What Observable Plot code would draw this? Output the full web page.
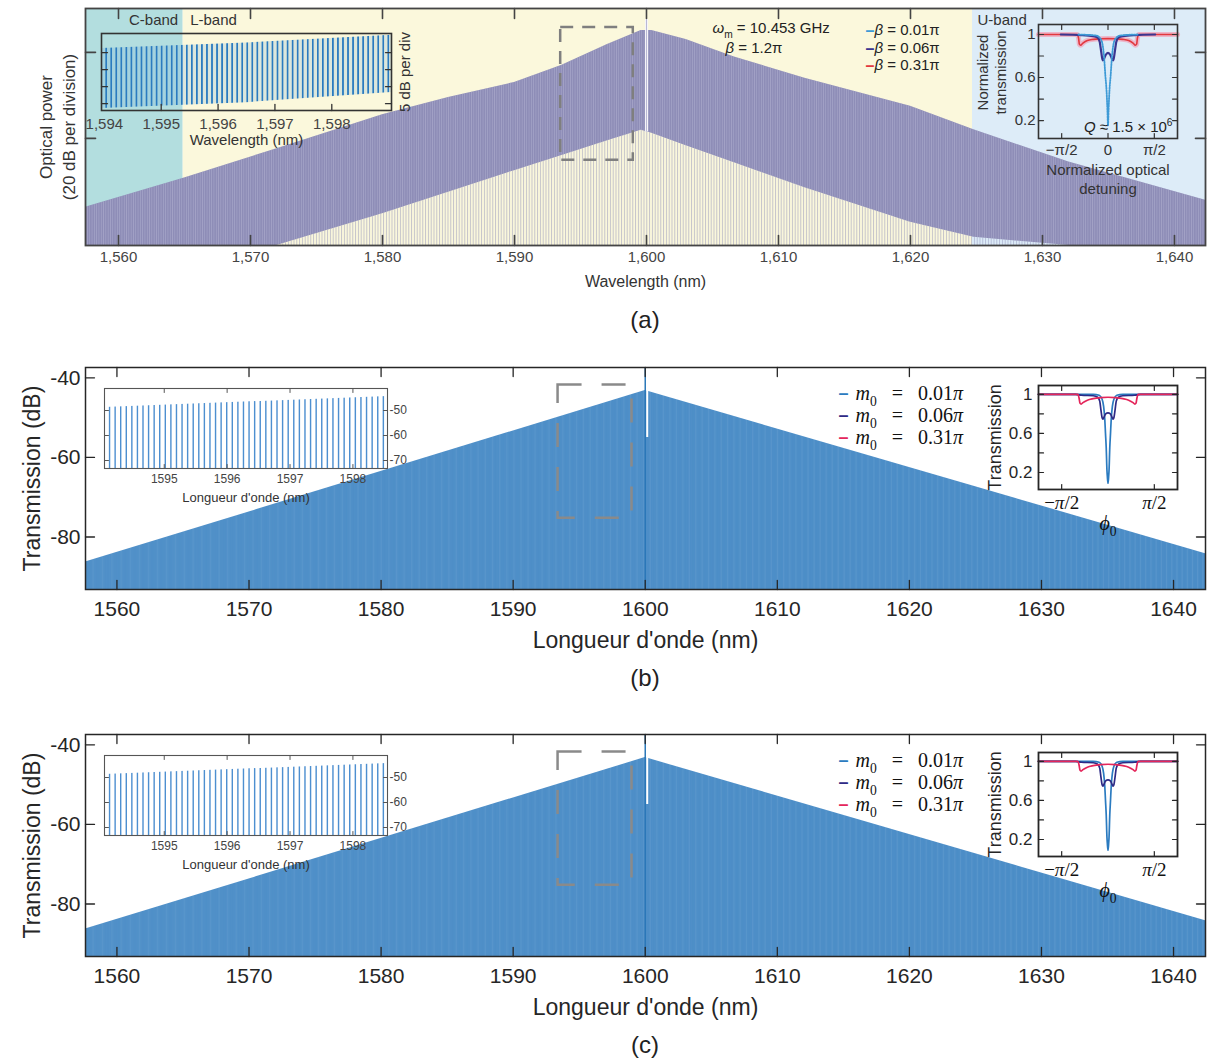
<!DOCTYPE html>
<html>
<head>
<meta charset="utf-8">
<script src="https://cdn.jsdelivr.net/npm/d3@7"></script>
<script src="https://cdn.jsdelivr.net/npm/@observablehq/plot@0.6"></script>
<style>
  html, body { margin: 0; padding: 0; background: #fff; }
  #fig { position: relative; width: 1208px; height: 1061px; overflow: hidden; background: #fff; }
  #fig svg { position: absolute; }
  .cap { position: absolute; transform: translate(-50%, -50%); font: 24px "Liberation Sans", Arial, sans-serif; color: #222; }
</style>
</head>
<body>
<div id="fig"></div>
<script>
// ======================= DATA =======================
// ---- (a) measured comb spectrum (relative dB, 20 dB per division) ----
const bandNames = ["C-band", "L-band", "U-band"];
const bandEdges = [1557.5, 1564.9, 1624.7, 1642.35];
const specWlA  = [1557.5, 1565, 1572, 1580, 1585, 1590, 1593.6, 1597, 1599.6, 1600.4, 1603, 1606.6, 1612, 1620, 1624.8, 1632, 1642.35];
const specTopA = [4.0, 10.8, 17.6, 25.5, 29.5, 33.0, 37.0, 41.8, 45.1, 45.1, 43.0, 39.0, 34.0, 27.5, 22.0, 14.5, 5.6];
const specBotA = [-4.9, -4.9, -4.9, 2.5, 7.5, 12.5, 16.0, 19.4, 21.9, 21.2, 18.3, 14.4, 8.5, 0.5, -3.0, -4.9, -4.9];
const pumpWl = 1600;
const pumpSpanA = [21.5, 47.6];
const zoomBoxA = [1593.5, 1599.0, 14.9, 45.8];
const xTicksA = [1560, 1570, 1580, 1590, 1600, 1610, 1620, 1630, 1640];
const yTicksA = [20, 40];
const modFreqGHz = 10.453;
// (a) zoom inset
const insetWlA  = [1593.95, 1596.5, 1599.05];
const insetTopA = [16.2, 17.8, 20.1];
const insetBotA = [-1.4, 0.3, 3.3];
const insetXTicksA = [1594, 1595, 1596, 1597, 1598];
const insetYTicksA = [0, 5, 10, 15];
const legendLabelsA = ["i:β| = 0.01π", "i:β| = 0.06π", "i:β| = 0.31π"];
const annotA = ["i:ω|_:m| = 10.453 GHz", "i:β| = 1.2π"];
// (a) transmission inset (normalized detuning in rad)
const detA01 = [-1.0, -0.4, -0.25, -0.18, -0.13, -0.09, -0.05, -0.02, 0, 0.02, 0.05, 0.09, 0.13, 0.18, 0.25, 0.4, 1.0];
const trA01  = [1, 0.99, 0.96, 0.9, 0.78, 0.62, 0.48, 0.3, 0.15, 0.3, 0.48, 0.62, 0.78, 0.9, 0.96, 0.99, 1];
const detA06 = [-1.6, -0.9, -0.5, -0.35, -0.28, -0.23, -0.18, -0.14, -0.08, 0, 0.08, 0.14, 0.18, 0.23, 0.28, 0.35, 0.5, 0.9, 1.6];
const trA06  = [1, 0.995, 0.985, 0.97, 0.93, 0.84, 0.76, 0.77, 0.81, 0.83, 0.81, 0.77, 0.76, 0.84, 0.93, 0.97, 0.985, 0.995, 1];
const detA31 = [-2.36, -1.05, -1.0, -0.97, -0.93, -0.85, -0.7, -0.5, -0.25, 0, 0.25, 0.5, 0.7, 0.85, 0.93, 0.97, 1.0, 1.05, 2.36];
const trA31  = [1, 1, 0.97, 0.91, 0.9, 0.92, 0.945, 0.955, 0.96, 0.962, 0.96, 0.955, 0.945, 0.92, 0.9, 0.91, 0.97, 1, 1];
const detTicksA = [-Math.PI / 2, 0, Math.PI / 2];
const trTicks = [0.2, 0.4, 0.6, 0.8, 1];
const trLabelTicks = [0.2, 0.6, 1];

// ---- (b), (c) simulated comb ----
const envWlB = [1557.62, 1600, 1642.42];
const envDbB = [-86.3, -43.2, -84.2];
const notchWlB = 1600.15;
const notchDbB = [-55, -42.8];
const zoomBoxB = [1593.4, 1599.0, -75.3, -41.8];
const xTicksB = [1560, 1570, 1580, 1590, 1600, 1610, 1620, 1630, 1640];
const yTicksB = [-40, -60, -80];
const insetWlB = [1594.05, 1598.55];
const insetDbB = [-48.8, -44.4];
const insetXTicksB = [1595, 1596, 1597, 1598];
const insetYTicksB = [-50, -60, -70];
const legendLabelsB = ["i:m|_:0|   =   0.01|i:π", "i:m|_:0|   =   0.06|i:π", "i:m|_:0|   =   0.31|i:π"];
const detB01 = [-2.36, -0.5, -0.3, -0.2, -0.15, -0.11, -0.085, -0.06, -0.035, -0.02, 0, 0.02, 0.035, 0.06, 0.085, 0.11, 0.15, 0.2, 0.3, 0.5, 2.36];
const trB01  = [1, 1, 0.99, 0.95, 0.88, 0.75, 0.6, 0.45, 0.22, 0.15, 0.09, 0.15, 0.22, 0.45, 0.6, 0.75, 0.88, 0.95, 0.99, 1, 1];
const detB06 = [-2.36, -1.1, -0.9, -0.5, -0.35, -0.28, -0.24, -0.2, -0.17, -0.13, -0.08, 0, 0.08, 0.13, 0.17, 0.2, 0.24, 0.28, 0.35, 0.5, 0.9, 1.1, 2.36];
const trB06  = [1, 1, 0.99, 0.985, 0.97, 0.93, 0.84, 0.76, 0.745, 0.77, 0.8, 0.81, 0.8, 0.77, 0.745, 0.76, 0.84, 0.93, 0.97, 0.985, 0.99, 1, 1];
const detB31 = [-2.36, -1.02, -0.98, -0.95, -0.91, -0.85, -0.7, -0.5, -0.25, 0, 0.25, 0.5, 0.7, 0.85, 0.91, 0.95, 0.98, 1.02, 2.36];
const trB31  = [1, 1, 0.96, 0.91, 0.9, 0.915, 0.94, 0.955, 0.965, 0.97, 0.965, 0.955, 0.94, 0.915, 0.9, 0.91, 0.96, 1, 1];
const detTicksB = [-Math.PI / 2, Math.PI / 2];

// ======================= STYLE =======================
const SANS = '"Liberation Sans", Arial, Helvetica, sans-serif';
const SERIF = '"Liberation Serif", "DejaVu Serif", "Times New Roman", serif';
const bandColors = ["#b3dedf", "#fbf8dc", "#ddecf8"];
const seriesColorsA = ["#3d9ad6", "#3a3590", "#e2383f"];
const seriesColorsB = ["#2b7bc0", "#2e2a85", "#e4265b"];
const fig = document.getElementById("fig");

// ======================= HELPERS =======================
const NS = "http://www.w3.org/2000/svg";
function dims(frame, m) {
  return {
    width: frame[2] - frame[0] + m.left + m.right,
    height: frame[3] - frame[1] + m.top + m.bottom,
    marginTop: m.top, marginRight: m.right, marginBottom: m.bottom, marginLeft: m.left
  };
}
function baseStyle(size, color) {
  return {background: "transparent", overflow: "visible", fontFamily: SANS, fontSize: size + "px", color: color || "#262626"};
}
function mount(chart, frame, m) {
  chart.style.left = (frame[0] - m.left) + "px";
  chart.style.top = (frame[1] - m.top) + "px";
  fig.appendChild(chart);
  richify(chart);
  return chart;
}
// "i:" italic, "_:" subscript, "^:" superscript segments separated by "|"
function richify(root) {
  root.querySelectorAll("text").forEach(el => {
    const targets = el.children.length ? Array.from(el.querySelectorAll("tspan")) : [el];
    for (const t of targets) {
      const s = t.textContent;
      if (!s.includes("|")) continue;
      const fs = parseFloat(getComputedStyle(t).fontSize) || 12;
      t.textContent = "";
      let base = 0;
      for (const part of s.split("|")) {
        let kind = part.slice(0, 2), str = part;
        if (kind === "i:" || kind === "_:" || kind === "^:") str = part.slice(2); else kind = "";
        const ts = document.createElementNS(NS, "tspan");
        ts.textContent = str;
        const off = kind === "_:" ? 0.3 * fs : kind === "^:" ? -0.42 * fs : 0;
        if (off !== base) { ts.setAttribute("dy", off - base); base = off; }
        if (kind === "_:" || kind === "^:") ts.setAttribute("font-size", 0.68 * fs);
        if (kind === "i:") ts.setAttribute("font-style", "italic");
        t.appendChild(ts);
      }
    }
  });
}
function addStripePattern(svg, id, {x = 0, period, stripe, color, opacity = 1, bg = null, bgOpacity = 1}) {
  let defs = svg.querySelector("defs");
  if (!defs) { defs = document.createElementNS(NS, "defs"); svg.insertBefore(defs, svg.firstChild); }
  const p = document.createElementNS(NS, "pattern");
  p.setAttribute("id", id);
  p.setAttribute("patternUnits", "userSpaceOnUse");
  p.setAttribute("x", x - stripe / 2);
  p.setAttribute("y", 0);
  p.setAttribute("width", period);
  p.setAttribute("height", 4);
  if (bg) {
    const r0 = document.createElementNS(NS, "rect");
    r0.setAttribute("width", period); r0.setAttribute("height", 4);
    r0.setAttribute("fill", bg); r0.setAttribute("fill-opacity", bgOpacity);
    p.appendChild(r0);
  }
  const r = document.createElementNS(NS, "rect");
  r.setAttribute("width", stripe); r.setAttribute("height", 4);
  r.setAttribute("fill", color); r.setAttribute("fill-opacity", opacity);
  p.appendChild(r);
  defs.appendChild(p);
}
// comb line wavelengths (nm) for the modulation frequency given in the figure
const C_LIGHT = 299792458;
function combLines(lo, hi, offset = 0) {
  const f0 = C_LIGHT / (pumpWl * 1e-9);
  const out = [];
  for (let n = -800; n <= 800; n++) {
    const wl = C_LIGHT / (f0 + (n + offset) * modFreqGHz * 1e9) * 1e9;
    if (wl > lo && wl < hi) out.push(wl);
  }
  return out.sort((a, b) => a - b);
}
const tickShape = {draw(ctx, l) { ctx.moveTo(0, 0); ctx.lineTo(0, -l); }};
function innerTicks(xs, ys, {len = 8, stroke = "#262626", strokeWidth = 1.2, sides = "tblr"} = {}) {
  const o = {length: len, anchor: "start", shape: tickShape, stroke, strokeWidth};
  const marks = [];
  if (xs && sides.includes("b")) marks.push(Plot.vector(xs, {...o, x: d => d, frameAnchor: "bottom", rotate: 0}));
  if (xs && sides.includes("t")) marks.push(Plot.vector(xs, {...o, x: d => d, frameAnchor: "top", rotate: 180}));
  if (ys && sides.includes("l")) marks.push(Plot.vector(ys, {...o, y: d => d, frameAnchor: "left", rotate: 90}));
  if (ys && sides.includes("r")) marks.push(Plot.vector(ys, {...o, y: d => d, frameAnchor: "right", rotate: -90}));
  return marks;
}
const txt = (s, opts) => Plot.text([s], {text: d => d, textAnchor: "middle", lineAnchor: "middle", ...opts});
const curve = (det, tr) => det.map((d, i) => ({det: d, tr: tr[i]}));
const piFmtSans = d => Math.abs(d) < 1e-9 ? "0" : d < 0 ? "−π/2" : "π/2";
const piFmtTex = d => d < 0 ? "−|i:π|/2" : "i:π|/2";

// ======================= PANEL (a) =======================
const frameA = [85, 8, 1205, 245];
const mA = {top: 8, right: 3, bottom: 55, left: 85};
const xDomA = [1557.5, 1642.35];
const yDomA = [-4.9, 50.2];
const rowsA = specWlA.map((wl, i) => ({wl, top: specTopA[i], bot: specBotA[i]}));
const layA = {legDash: 780, legText: 789, legDy: [22, 40, 57], annDx: [627, 640], annDy: [20, 40]};

const chartA = Plot.plot({
  ...dims(frameA, mA),
  style: baseStyle(15, "#333"),
  x: {domain: xDomA, axis: null},
  y: {domain: yDomA, axis: null},
  marks: [
    ...bandNames.map((b, i) => Plot.rect([b], {x1: bandEdges[i], x2: bandEdges[i + 1], y1: yDomA[0], y2: yDomA[1], fill: bandColors[i]})),
    Plot.areaY(rowsA, {x: "wl", y1: yDomA[0], y2: "bot", fill: "url(#streakA)"}),
    Plot.areaY(rowsA, {x: "wl", y1: "bot", y2: "top", fill: "#8e8db7"}),
    Plot.areaY(rowsA, {x: "wl", y1: "bot", y2: "top", fill: "url(#texA)"}),
    Plot.ruleX([pumpWl], {y1: pumpSpanA[0], y2: pumpSpanA[1], stroke: "white", strokeWidth: 3}),
    Plot.ruleX([pumpWl], {y1: pumpSpanA[0], y2: pumpSpanA[1], stroke: "#b9b8d4", strokeWidth: 1.3}),
    Plot.rect([zoomBoxA], {x1: d => d[0], x2: d => d[1], y1: d => d[2], y2: d => d[3], fill: "none", stroke: "#7f7f7f", strokeWidth: 2.5, strokeDasharray: "13,9"}),
    Plot.frame({stroke: "#444", strokeWidth: 1.8}),
    ...innerTicks(xTicksA, yTicksA, {len: 10, stroke: "#444", strokeWidth: 1.6}),
    Plot.axisX({ticks: xTicksA, tickFormat: d3.format(","), tickSize: 0, tickPadding: 6, fontSize: 15, fill: "#444", label: null}),
    txt("Wavelength (nm)", {frameAnchor: "bottom", dy: 36, fontSize: 16, fill: "#333"}),
    txt("Optical power\n(20 dB per division)", {frameAnchor: "left", dx: -29, rotate: -90, fontSize: 17, lineHeight: 1.35, fill: "#333"}),
    Plot.text([bandNames[0]], {text: d => d, x: bandEdges[1], frameAnchor: "top", dy: 12, dx: -5, textAnchor: "end", lineAnchor: "middle", fontSize: 15}),
    Plot.text([bandNames[1]], {text: d => d, x: bandEdges[1], frameAnchor: "top", dy: 12, dx: 7, textAnchor: "start", lineAnchor: "middle", fontSize: 15}),
    Plot.text([bandNames[2]], {text: d => d, x: bandEdges[2], frameAnchor: "top", dy: 12, dx: 5, textAnchor: "start", lineAnchor: "middle", fontSize: 15}),
    ...annotA.map((s, i) => txt(s, {frameAnchor: "top-left", dx: layA.annDx[i], dy: layA.annDy[i], textAnchor: "start", fontSize: 15, fill: "#222"})),
    ...legendLabelsA.flatMap((s, i) => [
      txt("–", {frameAnchor: "top-left", dx: layA.legDash, dy: layA.legDy[i], textAnchor: "start", fontSize: 16, fontWeight: "bold", fill: seriesColorsA[i]}),
      txt(s, {frameAnchor: "top-left", dx: layA.legText, dy: layA.legDy[i], textAnchor: "start", fontSize: 15, fill: "#222"})
    ])
  ]
});
addStripePattern(chartA, "streakA", {period: 2.8, stripe: 1, color: "#8e8db7", opacity: 0.5});
addStripePattern(chartA, "texA", {period: 2.3, stripe: 0.7, color: "#b8b7d4", opacity: 0.55});
mount(chartA, frameA, mA);

// (a) left zoom inset
const frameAL = [101, 33, 391, 110];
const mAL = {top: 5, right: 30, bottom: 40, left: 25};
const xDomAL = [1593.95, 1599.05];
const rowsAL = insetWlA.map((wl, i) => ({wl, top: insetTopA[i], bot: insetBotA[i]}));
const chartAL = Plot.plot({
  ...dims(frameAL, mAL),
  style: baseStyle(15, "#333"),
  x: {domain: xDomAL, axis: null},
  y: {domain: [-2, 20.6], axis: null},
  marks: [
    Plot.areaY(rowsAL, {x: "wl", y1: "bot", y2: "top", fill: "url(#combA)"}),
    Plot.frame({stroke: "#333", strokeWidth: 1.6}),
    ...innerTicks(insetXTicksA.slice(1), insetYTicksA, {len: 6, stroke: "#333", strokeWidth: 1.3, sides: "blr"}),
    Plot.axisX({ticks: insetXTicksA, tickFormat: d3.format(","), tickSize: 0, tickPadding: 8, fontSize: 15, fill: "#444", label: null}),
    txt("Wavelength (nm)", {frameAnchor: "bottom", dy: 30, fontSize: 15, fill: "#333"}),
    txt("5 dB per div", {frameAnchor: "right", dx: 14, rotate: -90, fontSize: 15, fill: "#333"})
  ]
});
{
  const sx = chartAL.scale("x");
  const lines = combLines(xDomAL[0], xDomAL[1]);
  addStripePattern(chartAL, "combA", {
    x: sx.apply(lines[0]), period: Math.abs(sx.apply(lines[1]) - sx.apply(lines[0])),
    stripe: 1.7, color: "#2a7bbf", bg: "#6fa9d8", bgOpacity: 0.22
  });
}
mount(chartAL, frameAL, mAL);

// (a) right transmission inset
const frameAR = [1038, 24, 1177, 138];
const mAR = {top: 5, right: 5, bottom: 60, left: 60};
const chartAR = Plot.plot({
  ...dims(frameAR, mAR),
  style: baseStyle(15, "#333"),
  x: {domain: [-3 * Math.PI / 4, 3 * Math.PI / 4], axis: null},
  y: {domain: [0.033, 1.093], axis: null},
  marks: [
    Plot.line(curve(detA31, trA31), {x: "det", y: "tr", stroke: "#f2a0b7", strokeWidth: 5, strokeOpacity: 0.7, curve: "monotone-x"}),
    Plot.line(curve(detA31, trA31), {x: "det", y: "tr", stroke: seriesColorsA[2], strokeWidth: 1.6, curve: "monotone-x"}),
    Plot.line(curve(detA06, trA06), {x: "det", y: "tr", stroke: seriesColorsA[1], strokeWidth: 2.2, curve: "monotone-x"}),
    Plot.line(curve(detA01, trA01), {x: "det", y: "tr", stroke: seriesColorsA[0], strokeWidth: 1.8, strokeDasharray: "1.3,1.3", curve: "monotone-x"}),
    Plot.frame({stroke: "#333", strokeWidth: 1.6}),
    ...innerTicks(detTicksA, trTicks, {len: 5, stroke: "#333", strokeWidth: 1.2}),
    Plot.axisY({ticks: trLabelTicks, tickFormat: d => String(d), tickSize: 0, tickPadding: 3, fontSize: 15, fill: "#333", label: null}),
    Plot.axisX({ticks: detTicksA, tickFormat: piFmtSans, tickSize: 0, tickPadding: 6, fontSize: 15, fill: "#333", label: null}),
    txt("Normalized\ntransmission", {frameAnchor: "left", dx: -47, dy: -9, rotate: -90, fontSize: 15, lineHeight: 1.15, fill: "#333"}),
    txt("Normalized optical\ndetuning", {frameAnchor: "bottom", dy: 40, fontSize: 15, lineHeight: 1.25, fill: "#333"}),
    txt("i:Q| ≈ 1.5 × 10|^:6", {frameAnchor: "bottom-right", dx: -5, dy: -11, textAnchor: "end", fontSize: 15, fill: "#222"})
  ]
});
mount(chartAR, frameAR, mAR);

// ======================= PANELS (b), (c) =======================
const xDomB = [1557.62, 1642.42];
const yDomB = [-93.2, -37.4];
const envRowsB = envWlB.map((wl, i) => ({wl, db: envDbB[i]}));
const insetRowsB = insetWlB.map((wl, i) => ({wl, db: insetDbB[i]}));
const xDomBL = [1594.05, 1598.55];
const yDomBL = [-73.2, -41.2];
const layB = {legDash: 753, legText: 770, legDy: [26, 48, 70]};

function simPanel(top) {
  // main axes
  const frame = [85, top, 1205, top + 222];
  const m = {top: 7, right: 3, bottom: 71, left: 85};
  const main = Plot.plot({
    ...dims(frame, m),
    style: baseStyle(21, "#262626"),
    x: {domain: xDomB, axis: null},
    y: {domain: yDomB, axis: null},
    marks: [
      Plot.areaY(envRowsB, {x: "wl", y1: yDomB[0], y2: "db", fill: "#2a78bd"}),
      Plot.ruleX(combLines(xDomB[0], xDomB[1], 0.5), {y1: yDomB[0], y2: yDomB[1], stroke: "white", strokeWidth: 0.3, strokeOpacity: 0.75}),
      Plot.ruleX([pumpWl], {y1: yDomB[0], y2: yDomB[1], stroke: "#2a77b8", strokeWidth: 1.5}),
      Plot.ruleX([notchWlB], {y1: notchDbB[0], y2: notchDbB[1], stroke: "white", strokeWidth: 2}),
      Plot.rect([zoomBoxB], {x1: d => d[0], x2: d => d[1], y1: d => d[2], y2: d => d[3], fill: "none", stroke: "#8a8a8a", strokeWidth: 2.5, strokeDasharray: "24,20"}),
      Plot.frame({stroke: "#262626", strokeWidth: 1.5}),
      ...innerTicks(xTicksB, yTicksB, {len: 9, stroke: "#262626", strokeWidth: 1.3}),
      Plot.axisX({ticks: xTicksB, tickFormat: d => String(d), tickSize: 0, tickPadding: 12, fontSize: 21, fill: "#262626", label: null}),
      Plot.axisY({ticks: yTicksB, tickFormat: d => String(d), tickSize: 0, tickPadding: 5, fontSize: 21, fill: "#262626", label: null}),
      txt("Longueur d'onde (nm)", {frameAnchor: "bottom", dy: 51, fontSize: 23, fill: "#262626"}),
      txt("Transmission (dB)", {frameAnchor: "left", dx: -53, rotate: -90, fontSize: 23, fill: "#262626"}),
      ...legendLabelsB.flatMap((s, i) => [
        txt("–", {frameAnchor: "top-left", dx: layB.legDash, dy: layB.legDy[i], textAnchor: "start", fontSize: 18, fontWeight: "bold", fill: seriesColorsB[i]}),
        txt(s, {frameAnchor: "top-left", dx: layB.legText, dy: layB.legDy[i], textAnchor: "start", fontSize: 20, fontFamily: SERIF, fill: "#111"})
      ])
    ]
  });
  mount(main, frame, m);

  // left zoom inset
  const fL = [104, top + 21, 387, top + 101];
  const mL = {top: 5, right: 30, bottom: 40, left: 5};
  const pxPerNm = (fL[2] - fL[0]) / (xDomBL[1] - xDomBL[0]);
  const gaps = combLines(xDomBL[0], xDomBL[1], 0.5);
  const gapWidth = (gaps[1] - gaps[0]) * pxPerNm - 1.4;
  const left = Plot.plot({
    ...dims(fL, mL),
    style: baseStyle(12, "#444"),
    x: {domain: xDomBL, axis: null},
    y: {domain: yDomBL, axis: null},
    marks: [
      Plot.areaY(insetRowsB, {x: "wl", y1: yDomBL[0], y2: "db", fill: "#4d8fd0"}),
      Plot.ruleX(gaps, {y1: yDomBL[0], y2: yDomBL[1], stroke: "white", strokeWidth: gapWidth}),
      Plot.frame({stroke: "#555", strokeWidth: 1.1}),
      ...innerTicks(insetXTicksB, insetYTicksB, {len: 4, stroke: "#555", strokeWidth: 1}),
      Plot.axisX({ticks: insetXTicksB, tickFormat: d => String(d), tickSize: 0, tickPadding: 6, fontSize: 12, fill: "#444", label: null}),
      Plot.axisY({anchor: "right", ticks: insetYTicksB, tickFormat: d => String(d), tickSize: 0, tickPadding: 2, fontSize: 12, fill: "#444", label: null}),
      txt("Longueur d'onde (nm)", {frameAnchor: "bottom", dy: 29, fontSize: 13, fill: "#333"})
    ]
  });
  mount(left, fL, mL);

  // right transmission inset
  const fR = [1038, top + 18, 1177, top + 122];
  const mR = {top: 5, right: 5, bottom: 50, left: 60};
  const right = Plot.plot({
    ...dims(fR, mR),
    style: baseStyle(17, "#262626"),
    x: {domain: [-3 * Math.PI / 4, 3 * Math.PI / 4], axis: null},
    y: {domain: [0.026, 1.09], axis: null},
    marks: [
      Plot.line(curve(detB01, trB01), {x: "det", y: "tr", stroke: seriesColorsB[0], strokeWidth: 1.7, curve: "monotone-x"}),
      Plot.line(curve(detB06, trB06), {x: "det", y: "tr", stroke: seriesColorsB[1], strokeWidth: 1.7, curve: "monotone-x"}),
      Plot.line(curve(detB31, trB31), {x: "det", y: "tr", stroke: seriesColorsB[2], strokeWidth: 1.7, curve: "monotone-x"}),
      Plot.frame({stroke: "#262626", strokeWidth: 1.8}),
      ...innerTicks(detTicksB, trTicks, {len: 5, stroke: "#262626", strokeWidth: 1.2}),
      Plot.axisY({ticks: trLabelTicks, tickFormat: d => String(d), tickSize: 0, tickPadding: 6, fontSize: 17, fill: "#262626", label: null}),
      Plot.axisX({ticks: detTicksB, tickFormat: piFmtTex, tickSize: 0, tickPadding: 6, fontSize: 19, fontFamily: SERIF, fill: "#111", label: null}),
      txt("Transmission", {frameAnchor: "left", dx: -43, rotate: -90, fontSize: 18, fill: "#262626"}),
      txt("i:ϕ|_:0", {frameAnchor: "bottom", dy: 34, fontSize: 20, fontFamily: SERIF, fill: "#111"})
    ]
  });
  mount(right, fR, mR);
}
simPanel(367);
simPanel(734);

// ======================= CAPTIONS =======================
[["(a)", 645, 320], ["(b)", 645, 678], ["(c)", 645, 1045]].forEach(([s, x, y]) => {
  const d = document.createElement("div");
  d.className = "cap"; d.textContent = s;
  d.style.left = x + "px"; d.style.top = y + "px";
  fig.appendChild(d);
});
</script>
</body>
</html>
